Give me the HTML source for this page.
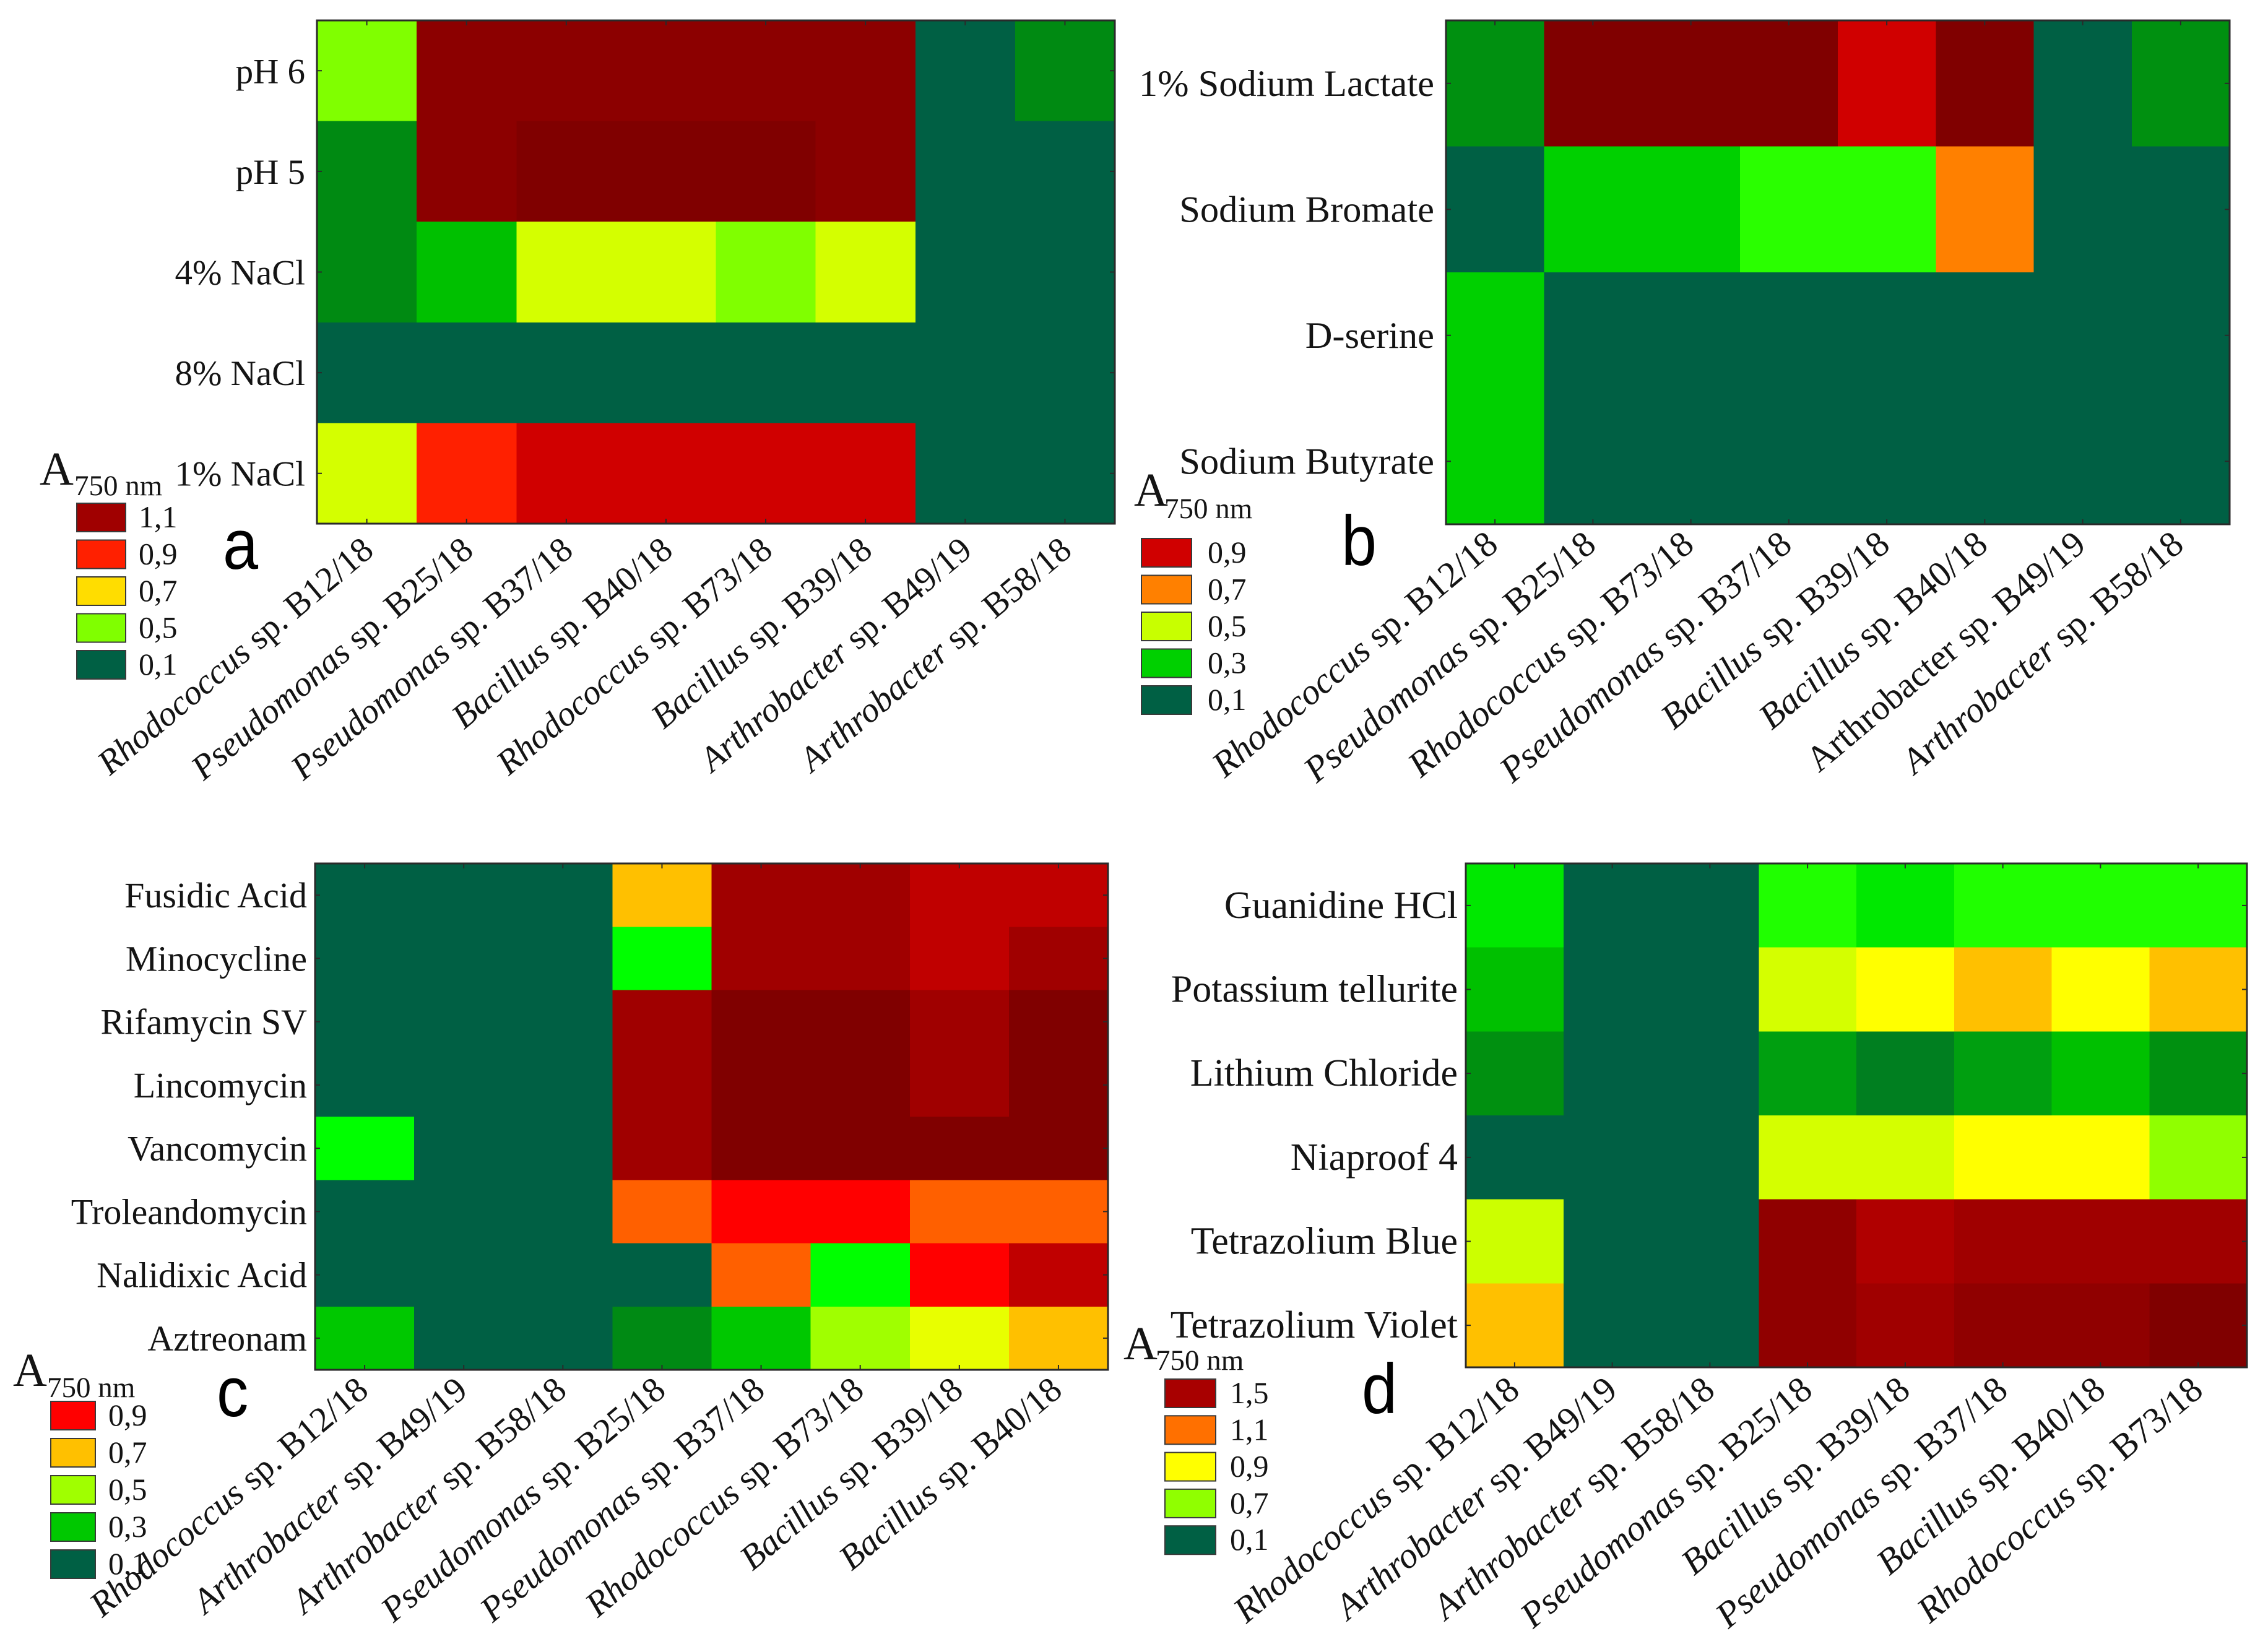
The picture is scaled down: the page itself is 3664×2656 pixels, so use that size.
<!DOCTYPE html>
<html lang="en">
<head>
<meta charset="utf-8">
<title>A750 nm heatmaps</title>
<style>
html,body{margin:0;padding:0;background:#fff;}
svg{display:block;}
text{font-family:"Liberation Serif",serif;fill:#141414;}
.letter{font-family:"Liberation Sans",sans-serif;fill:#000;}
</style>
</head>
<body>
<svg id="figure" xmlns="http://www.w3.org/2000/svg" width="3664" height="2656" viewBox="0 0 3664 2656"></svg>
<script>
const aRows = ['pH 6','pH 5','4% NaCl','8% NaCl','1% NaCl'];
const aCols = ['Rhodococcus sp. B12/18','Pseudomonas sp. B25/18','Pseudomonas sp. B37/18','Bacillus sp. B40/18','Rhodococcus sp. B73/18','Bacillus sp. B39/18','Arthrobacter sp. B49/19','Arthrobacter sp. B58/18'];
const aValues = [
  [0.5,1.13,1.13,1.13,1.13,1.13,0.1,0.2],
  [0.2,1.13,1.16,1.16,1.16,1.13,0.1,0.1],
  [0.2,0.3,0.6,0.6,0.5,0.6,0.1,0.1],
  [0.1,0.1,0.1,0.1,0.1,0.1,0.1,0.1],
  [0.6,0.9,0.97,0.97,0.97,0.97,0.1,0.1]
];
const aLegendValues = [1.1,0.9,0.7,0.5,0.1];
const aLegendLabels = ['1,1','0,9','0,7','0,5','0,1'];
const aScaleValues = [0.1,0.2,0.3,0.5,0.6,0.7,0.9,0.97,1.1,1.13,1.16];
const aScaleColors = ['#006044','#008a12','#00c000','#80ff00','#d4ff00','#ffdd00','#ff2000','#d00000','#a00000','#8c0000','#800000'];

const bRows = ['1% Sodium Lactate','Sodium Bromate','D-serine','Sodium Butyrate'];
const bCols = ['Rhodococcus sp. B12/18','Pseudomonas sp. B25/18','Rhodococcus sp. B73/18','Pseudomonas sp. B37/18','Bacillus sp. B39/18','Bacillus sp. B40/18','Arthrobacter sp. B49/19','Arthrobacter sp. B58/18'];
const bValues = [
  [0.15,1.0,1.0,1.0,0.9,1.0,0.1,0.15],
  [0.1,0.3,0.3,0.35,0.35,0.7,0.1,0.1],
  [0.3,0.1,0.1,0.1,0.1,0.1,0.1,0.1],
  [0.3,0.1,0.1,0.1,0.1,0.1,0.1,0.1]
];
const bLegendValues = [0.9,0.7,0.5,0.3,0.1];
const bLegendLabels = ['0,9','0,7','0,5','0,3','0,1'];
const bScaleValues = [0.1,0.15,0.3,0.35,0.5,0.7,0.9,1.0];
const bScaleColors = ['#006044','#009010','#00d000','#2aff00','#c8ff00','#ff8000','#d00000','#800000'];

const cRows = ['Fusidic Acid','Minocycline','Rifamycin SV','Lincomycin','Vancomycin','Troleandomycin','Nalidixic Acid','Aztreonam'];
const cCols = ['Rhodococcus sp. B12/18','Arthrobacter sp. B49/19','Arthrobacter sp. B58/18','Pseudomonas sp. B25/18','Pseudomonas sp. B37/18','Rhodococcus sp. B73/18','Bacillus sp. B39/18','Bacillus sp. B40/18'];
const cValues = [
  [0.1,0.1,0.1,0.7,1.1,1.1,1.0,1.0],
  [0.1,0.1,0.1,0.4,1.1,1.1,1.0,1.1],
  [0.1,0.1,0.1,1.1,1.2,1.2,1.1,1.2],
  [0.1,0.1,0.1,1.1,1.2,1.2,1.1,1.2],
  [0.4,0.1,0.1,1.1,1.2,1.2,1.2,1.2],
  [0.1,0.1,0.1,0.8,0.9,0.9,0.8,0.8],
  [0.1,0.1,0.1,0.1,0.8,0.4,0.9,1.0],
  [0.3,0.1,0.1,0.2,0.3,0.5,0.6,0.7]
];
const cLegendValues = [0.9,0.7,0.5,0.3,0.1];
const cLegendLabels = ['0,9','0,7','0,5','0,3','0,1'];
const cScaleValues = [0.1,0.2,0.3,0.4,0.5,0.6,0.7,0.8,0.9,1.0,1.1,1.2];
const cScaleColors = ['#006044','#008a14','#00c800','#00ff00','#a0ff00','#e8ff00','#ffc000','#ff6000','#ff0000','#c00000','#a00000','#800000'];

const dRows = ['Guanidine HCl','Potassium tellurite','Lithium Chloride','Niaproof 4','Tetrazolium Blue','Tetrazolium Violet'];
const dCols = ['Rhodococcus sp. B12/18','Arthrobacter sp. B49/19','Arthrobacter sp. B58/18','Pseudomonas sp. B25/18','Bacillus sp. B39/18','Pseudomonas sp. B37/18','Bacillus sp. B40/18','Rhodococcus sp. B73/18'];
const dValues = [
  [0.45,0.1,0.1,0.5,0.45,0.5,0.5,0.5],
  [0.35,0.1,0.1,0.8,0.9,1.0,0.9,1.0],
  [0.25,0.1,0.1,0.3,0.2,0.3,0.35,0.25],
  [0.1,0.1,0.1,0.8,0.8,0.9,0.9,0.7],
  [0.78,0.1,0.1,1.6,1.4,1.55,1.55,1.55],
  [1.0,0.1,0.1,1.6,1.55,1.6,1.6,1.7]
];
const dLegendValues = [1.5,1.1,0.9,0.7,0.1];
const dLegendLabels = ['1,5','1,1','0,9','0,7','0,1'];
const dScaleValues = [0.1,0.2,0.25,0.3,0.35,0.45,0.5,0.7,0.78,0.8,0.9,1.0,1.1,1.4,1.5,1.55,1.6,1.7];
const dScaleColors = ['#006044','#007f20','#009010','#009f10','#00c000','#00e800','#20ff00','#90ff00','#ccff00','#d4ff00','#ffff00','#ffc000','#ff7000','#b00000','#a80000','#a00000','#900000','#800000'];

const svg = document.getElementById('figure');
const NS = 'http://www.w3.org/2000/svg';

function hexToRgb(h){
  return [parseInt(h.slice(1,3),16),parseInt(h.slice(3,5),16),parseInt(h.slice(5,7),16)];
}
function colorFor(v, stops, colors){
  if(v <= stops[0]) return colors[0];
  const last = stops.length - 1;
  if(v >= stops[last]) return colors[last];
  for(let i = 0; i < last; i++){
    if(v <= stops[i+1]){
      const t = (v - stops[i]) / (stops[i+1] - stops[i]);
      const a = hexToRgb(colors[i]);
      const b = hexToRgb(colors[i+1]);
      return 'rgb(' + a.map((c,k) => Math.round(c + (b[k]-c)*t)).join(',') + ')';
    }
  }
  return colors[last];
}
function make(tag, attrs, parent){
  const el = document.createElementNS(NS, tag);
  for(const k in attrs) el.setAttribute(k, attrs[k]);
  parent.appendChild(el);
  return el;
}

function drawPanel(p){
  const g = make('g', {}, svg);
  
  

  const nr = p.rows.length;
  const nc = p.cols.length;
  const xScale = i => p.x0 + i * (p.x1 - p.x0) / nc;
  const yScale = j => p.y0 + j * (p.y1 - p.y0) / nr;

  p.values.forEach((row, j) => {
    row.forEach((v, i) => {
      const cell = make('rect', {
        x: xScale(i), y: yScale(j),
        width: xScale(i+1) - xScale(i), height: yScale(j+1) - yScale(j),
        fill: colorFor(v, p.stops, p.colors),
        'shape-rendering': 'crispEdges'
      }, g);
      
      
    });
  });

  const frame = make('rect', {x:p.x0, y:p.y0, width:p.x1-p.x0, height:p.y1-p.y0, fill:'none', stroke:'#2a2a2a', 'stroke-width':3}, g);
  
  

  p.rows.forEach((name, j) => {
    const yc = (yScale(j) + yScale(j+1)) / 2;
    const tl = make('path', {d:'M'+p.x0+' '+yc+'h8M'+p.x1+' '+yc+'h-8', stroke:'#2a2a2a', 'stroke-width':2, fill:'none'}, g);
    
    
    const t = make('text', {x:p.yLabelX, y:yc+20, 'text-anchor':'end', 'font-size':p.yFont}, g);
    t.textContent = name;
    
    
  });

  p.cols.forEach((name, i) => {
    const xc = (xScale(i) + xScale(i+1)) / 2;
    const tk = make('path', {d:'M'+xc+' '+p.y0+'v8M'+xc+' '+p.y1+'v-8', stroke:'#2a2a2a', 'stroke-width':2, fill:'none'}, g);
    
    
    const t = make('text', {
      transform:'translate('+(xc+p.xdx)+','+(p.y1+p.xdy)+') rotate(-40)',
      'text-anchor':'end', 'font-size':p.xFont
    }, g);
    
    
    const cut = name.indexOf(' ');
    const genus = make('tspan', {'font-style': (p.id === 'b' && i === 6) ? 'normal' : 'italic'}, t);
    genus.textContent = name.slice(0, cut);
    const rest = make('tspan', {}, t);
    rest.textContent = name.slice(cut);
  });

  const lg = make('g', {}, svg);
  
  

  const title = make('text', {x:p.ax, y:p.ay, 'font-size':76}, lg);
  title.textContent = 'A';
  
  
  const sub = make('text', {x:p.sx, y:p.sy, 'font-size':47}, lg);
  sub.textContent = '750 nm';
  
  

  p.legendValues.forEach((v, k) => {
    const top = p.ly + k * p.lstep;
    const sw = make('rect', {x:p.lx, y:top, width:p.lw, height:46, fill:colorFor(v, p.stops, p.colors), stroke:'#3a3a3a', 'stroke-width':2}, lg);
    
    
    const lab = make('text', {x:p.ltx, y:top+39, 'font-size':50}, lg);
    lab.textContent = p.legendLabels[k];
    
    
  });

  const letter = make('text', {transform:'translate('+p.px+','+p.py+') scale(0.9,1)', 'font-size':114, class:'letter'}, svg);
  letter.textContent = p.id;
  
  
}

drawPanel({id:'a', rows:aRows, cols:aCols, values:aValues, stops:aScaleValues, colors:aScaleColors,
  legendValues:aLegendValues, legendLabels:aLegendLabels,
  x0:512, x1:1801, y0:33, y1:846, yLabelX:493, yFont:57, xFont:56.5, xdx:14, xdy:48,
  ax:64, ay:783, sx:120, sy:800, lx:124, lw:79, ly:813, lstep:59.5, ltx:224, px:360, py:919});
drawPanel({id:'b', rows:bRows, cols:bCols, values:bValues, stops:bScaleValues, colors:bScaleColors,
  legendValues:bLegendValues, legendLabels:bLegendLabels,
  x0:2336, x1:3602, y0:33, y1:847, yLabelX:2317, yFont:60.5, xFont:58.5, xdx:8, xdy:38,
  ax:1832, ay:817, sx:1881, sy:837, lx:1844, lw:81, ly:870, lstep:59.5, ltx:1951, px:2167, py:913});
drawPanel({id:'c', rows:cRows, cols:cCols, values:cValues, stops:cScaleValues, colors:cScaleColors,
  legendValues:cLegendValues, legendLabels:cLegendLabels,
  x0:509, x1:1790, y0:1395, y1:2213, yLabelX:496, yFont:58, xFont:57, xdx:9, xdy:38,
  ax:21, ay:2239, sx:76, sy:2257, lx:82, lw:72, ly:2264, lstep:60, ltx:175, px:350, py:2288});
drawPanel({id:'d', rows:dRows, cols:dCols, values:dValues, stops:dScaleValues, colors:dScaleColors,
  legendValues:dLegendValues, legendLabels:dLegendLabels,
  x0:2368, x1:3630, y0:1395, y1:2209, yLabelX:2355, yFont:62, xFont:58.5, xdx:11, xdy:42,
  ax:1815, ay:2196, sx:1867, sy:2213, lx:1882, lw:82, ly:2228, lstep:59.3, ltx:1987, px:2200, py:2283});
</script>
</body>
</html>
